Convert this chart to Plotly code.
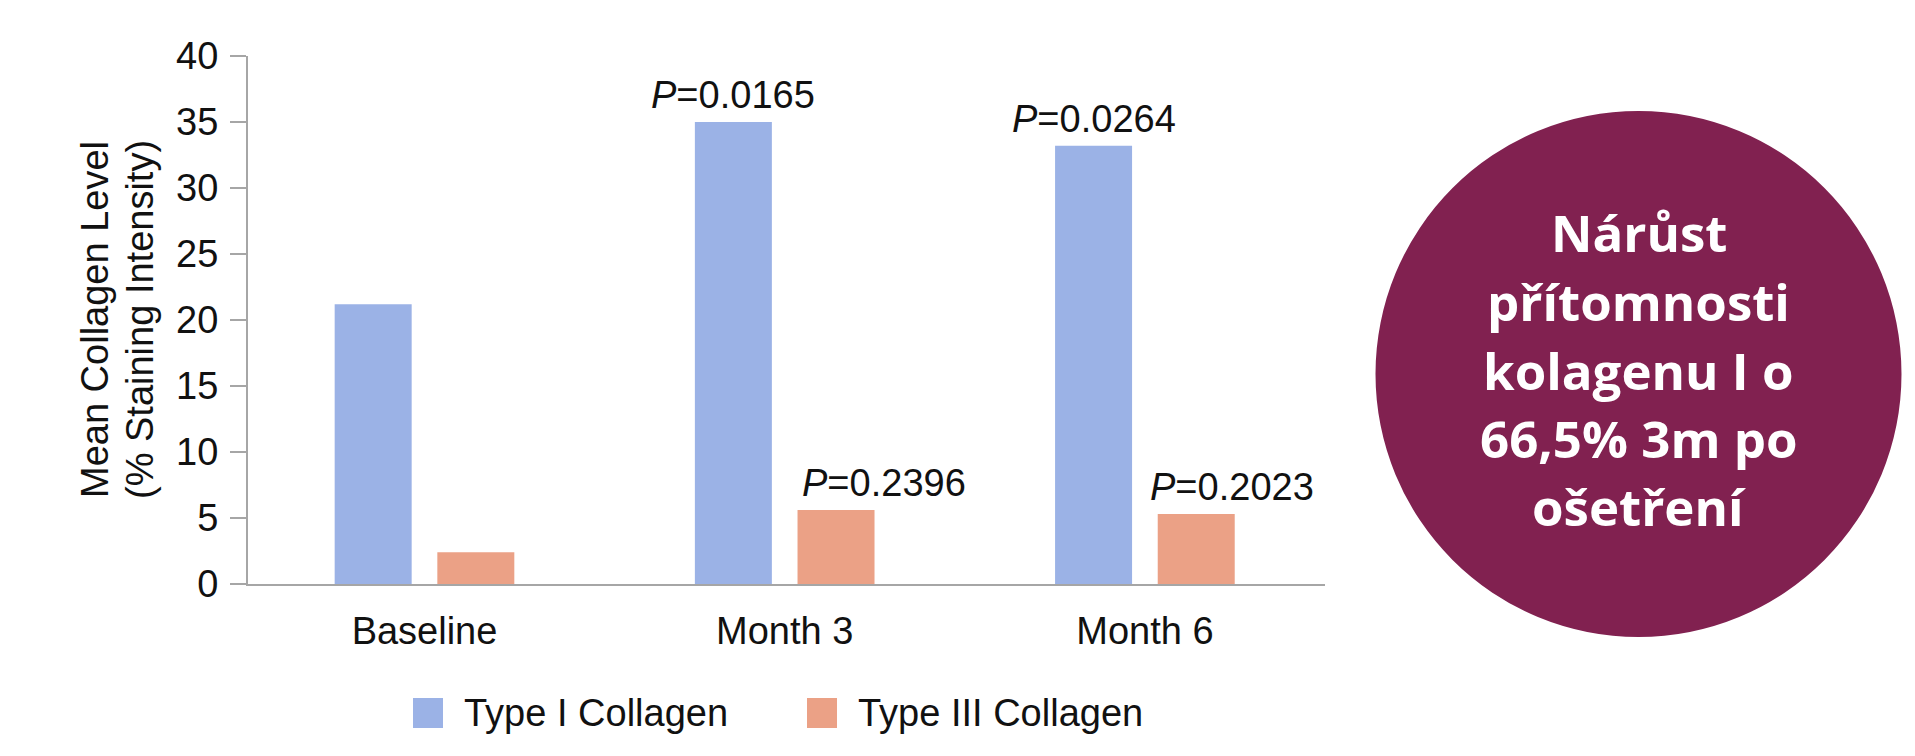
import plotly.graph_objects as go

# ---------------- data ----------------
categories = ["Baseline", "Month 3", "Month 6"]
series_names = ["Type I Collagen", "Type III Collagen"]
type1_values = [21.2, 35.0, 33.2]
type3_values = [2.4, 5.6, 5.3]
type1_p = [None, "0.0165", "0.0264"]
type3_p = [None, "0.2396", "0.2023"]
y_ticks = [0, 5, 10, 15, 20, 25, 30, 35, 40]
y_title_lines = ["Mean Collagen Level", "(% Staining Intensity)"]
circle_lines = ["Nárůst", "přítomnosti", "kolagenu I o", "66,5% 3m po", "ošetření"]

# ---------------- style ----------------
OFF = 8  # page body margin in the browser
W, H = 1915 - 2 * OFF, 756 - 2 * OFF
L, R, T, B = 248 - OFF, 1325 - OFF, 56 - OFF, 584 - OFF
C1 = "#9BB2E6"
C3 = "#EBA186"
AXIS = "#A6A6A6"
CIRCLE = "#812150"
FONT = "Arial, Liberation Sans, sans-serif"
FS = 38
BARGAP = 0.43
GROUPGAP = 0.25
P3_XSHIFT = [0, 2, -10]


def px_x(p):
    # p: x pixel in the 1915x756 screenshot
    return (p - OFF - L) / (R - L)


def px_y(p):
    return (B - (p - OFF)) / (B - T)


fig = go.Figure()
fig.add_trace(go.Bar(x=categories, y=type1_values, name=series_names[0],
                     marker=dict(color=C1, line=dict(width=0)), showlegend=False))
fig.add_trace(go.Bar(x=categories, y=type3_values, name=series_names[1],
                     marker=dict(color=C3, line=dict(width=0)), showlegend=False))

slot = (1 - BARGAP) / 2
barw = slot * (1 - GROUPGAP)
annotations = []
for i, p in enumerate(type1_p):
    if p:
        annotations.append(dict(x=i - slot / 2, y=type1_values[i], xref="x", yref="y",
                                text="<i>P</i>=" + p, showarrow=False,
                                xanchor="center", yanchor="bottom", yshift=4,
                                font=dict(family=FONT, size=FS, color="#111111")))
for i, p in enumerate(type3_p):
    if p:
        annotations.append(dict(x=i + slot / 2 - barw / 2, y=type3_values[i], xref="x", yref="y",
                                text="<i>P</i>=" + p, showarrow=False,
                                xanchor="left", yanchor="bottom", yshift=4, xshift=P3_XSHIFT[i],
                                font=dict(family=FONT, size=FS, color="#111111")))

# y axis title (two lines)
for txt, xc in zip(y_title_lines, [95, 140]):
    annotations.append(dict(x=px_x(xc), y=px_y(320), xref="paper", yref="paper",
                            text=txt, textangle=-90, showarrow=False,
                            xanchor="center", yanchor="middle",
                            font=dict(family=FONT, size=FS, color="#111111")))

# legend (custom swatches)
shapes = []
legend_items = [(series_names[0], C1, 413, 464), (series_names[1], C3, 807, 858)]
for name, col, sx, tx in legend_items:
    shapes.append(dict(type="rect", xref="paper", yref="paper",
                       x0=px_x(sx), x1=px_x(sx + 30), y0=px_y(698), y1=px_y(728),
                       fillcolor=col, line=dict(width=0)))
    annotations.append(dict(x=px_x(tx - 2), y=px_y(713), xref="paper", yref="paper",
                            text=name, showarrow=False, xanchor="left", yanchor="middle",
                            font=dict(family=FONT, size=FS, color="#111111")))

# circle callout
cx, cy, r = 1638.5, 374, 263
shapes.append(dict(type="circle", xref="paper", yref="paper",
                   x0=px_x(cx - r), x1=px_x(cx + r), y0=px_y(cy - r), y1=px_y(cy + r),
                   fillcolor=CIRCLE, line=dict(width=0), layer="above"))
line_centers = [232, 301, 370, 438, 506]
for txt, yc in zip(circle_lines, line_centers):
    annotations.append(dict(x=px_x(cx), y=px_y(yc), xref="paper", yref="paper",
                            text="<b>" + txt + "</b>", showarrow=False,
                            xanchor="center", yanchor="middle",
                            font=dict(family="Open Sans", size=51, color="white")))

fig.update_layout(
    width=W, height=H,
    margin=dict(l=L, r=W - R, t=T, b=H - B, autoexpand=False),
    paper_bgcolor="white", plot_bgcolor="white",
    barmode="group", bargap=BARGAP, bargroupgap=GROUPGAP,
    showlegend=False,
    annotations=annotations, shapes=shapes,
    font=dict(family=FONT, size=FS, color="#111111"),
)
fig.update_xaxes(type="category", range=[-0.49, 2.5], showline=True, linecolor=AXIS, linewidth=2,
                 ticks="", showgrid=False, zeroline=False, automargin=False,
                 ticklabelstandoff=12, tickfont=dict(family=FONT, size=FS, color="#111111"))
fig.update_yaxes(range=[0, 40], tickvals=y_ticks, showline=True, linecolor=AXIS, linewidth=2,
                 ticks="outside", ticklen=16, tickwidth=2, tickcolor=AXIS,
                 showgrid=False, zeroline=False, automargin=False,
                 ticklabelstandoff=4, tickfont=dict(family=FONT, size=FS, color="#111111"))

fig.write_html("out.html")
